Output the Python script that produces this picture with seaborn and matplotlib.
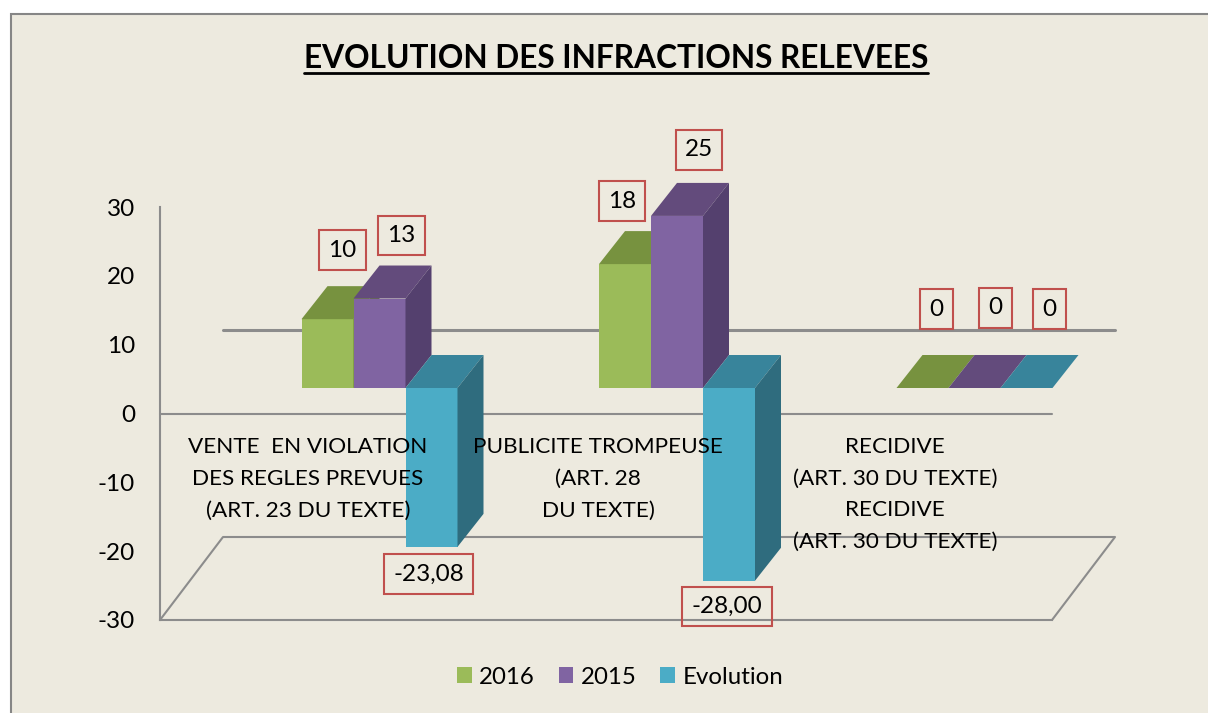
import numpy as np
import pandas as pd
import seaborn as sns
import matplotlib
matplotlib.use("Agg")
import matplotlib.pyplot as plt
from matplotlib.patches import Polygon, Rectangle
from matplotlib.lines import Line2D

categories = ["VENTE  EN VIOLATION\nDES REGLES PREVUES\n(ART. 23 DU TEXTE)",
              "PUBLICITE TROMPEUSE\n(ART. 28\nDU TEXTE)",
              "RECIDIVE\n(ART. 30 DU TEXTE)\nRECIDIVE\n(ART. 30 DU TEXTE)"]
series = ["2016", "2015", "Evolution"]
values_2016 = [10, 18, 0]
values_2015 = [13, 25, 0]
values_evol = [-23.08, -28.00, 0]
labels_2016 = ["10", "18", "0"]
labels_2015 = ["13", "25", "0"]
labels_evol = ["-23,08", "-28,00", "0"]
yticks = [-30, -20, -10, 0, 10, 20, 30]

colors = ["#9BBB59", "#8064A2", "#4BACC6"]
top_colors = ["#77923F", "#634B7C", "#38849B"]
side_colors = ["#6A8238", "#54406E", "#2F6C7E"]
BG = "#EDEADF"
LINE = "#8C8C8C"
W, H = 1208, 713

# pixel frame of the chart
X0, X1 = 160, 1052
Y_TOP, Y_BOT = 207, 620
CAT_STEP = 297.5
CAT_START = 379.5
PX_Y = (Y_BOT - Y_TOP) / 60

def fx(x):
    return x / W

def fy(y):
    return 1 - y / H

df = pd.DataFrame({
    "cat": categories * 3,
    "serie": np.repeat(series, 3),
    "value": values_2016 + values_2015 + values_evol,
})

sns.set_style("white")
plt.rcParams["font.family"] = ["Lato", "DejaVu Sans"]
plt.rcParams["axes.unicode_minus"] = False
FS = 16.2
FS_NUM = 17.5

fig = plt.figure(figsize=(W / 100, H / 100), dpi=100, facecolor="white")
fig.add_artist(Rectangle((fx(11), fy(H + 20)), (W + 20) / W, (H + 6) / H, transform=fig.transFigure,
                         facecolor=BG, edgecolor="#868686", lw=1.5, zorder=-1))
ax = fig.add_axes([fx(X0), fy(Y_BOT), (X1 - X0) / W, (Y_BOT - Y_TOP) / H])
ax.patch.set_alpha(0)

sns.barplot(data=df, x="cat", y="value", hue="serie", order=categories, hue_order=series,
            palette=colors, saturation=1, width=156 / CAT_STEP, gap=0, ax=ax,
            linewidth=0, zorder=3)

ax.set_xlim((X0 - CAT_START) / CAT_STEP, (X1 - CAT_START) / CAT_STEP)
ax.set_ylim(-30, 30)
ax.set_yticks(yticks)
ax.set_xticks([])
ax.set_xlabel("")
ax.set_ylabel("")
ax.tick_params(axis="y", length=0, pad=18, labelsize=FS_NUM, labelcolor="black")
sns.despine(ax=ax, top=True, right=True)
for s in ["left", "bottom"]:
    ax.spines[s].set_color(LINE)
    ax.spines[s].set_linewidth(1.5)

# floor and back line
xa, xb = ax.get_xlim()
fdx = 63 / CAT_STEP
fdy = 83 / PX_Y
ax.plot([xa, xa + fdx, xb + fdx, xb], [-30, -30 + fdy, -30 + fdy, -30], color=LINE, lw=1.5, clip_on=False, zorder=1)
ax.plot([xa + fdx, xb + fdx], [fdy + 0.12, fdy + 0.12], color=LINE, lw=2.2, clip_on=False, zorder=1)
ax.plot([xa, xb], [0, 0], color=LINE, lw=1.5, clip_on=False, zorder=1)

# bars stand on a plane behind the front zero line
base = 25.5 / PX_Y
ddx = 26 / CAT_STEP
ddy = 33 / PX_Y
all_labels = [labels_2016, labels_2015, labels_evol]
offsets = [[(15, -69), (-3, -63), (14, -79)],
           [(22, -63), (22, -66), (21, -80)],
           [(-3, 27), (-2, 26), (23, -79)]]

# depth faces for each bar, worked out from the bars seaborn drew
for k, cont in enumerate(ax.containers):
    for i, bar in enumerate(cont):
        bar.set_y(base)
        bar.set_zorder(3 + k)
        bar.set_clip_on(False)
        x = bar.get_x()
        w = bar.get_width()
        b = bar.get_y()
        h = bar.get_height()
        top = max(b, b + h)
        low = min(b, b + h)
        ax.add_patch(Polygon([(x, top), (x + ddx, top + ddy), (x + w + ddx, top + ddy), (x + w, top)],
                             facecolor=top_colors[k], lw=0, clip_on=False, zorder=3 + k))
        if h != 0:
            ax.add_patch(Polygon([(x + w, top), (x + w + ddx, top + ddy), (x + w + ddx, low + ddy), (x + w, low)],
                                 facecolor=side_colors[k], lw=0, clip_on=False, zorder=3 + k))
        end = b + h
        off = offsets[k][i]
        ax.annotate(all_labels[k][i], (x + w / 2, end), xytext=(off[0] * 0.72, -off[1] * 0.72),
                    textcoords="offset points", ha="center", va="center", fontsize=FS_NUM, color="black",
                    annotation_clip=False, zorder=20,
                    bbox=dict(boxstyle="square,pad=0.38", facecolor="none", edgecolor="#C0504D", lw=1.5))

# category names sit left of the bars
name_x = [308, 598, 895]
for name, nx in zip(categories, name_x):
    fig.text(fx(nx), fy(437), name, ha="center", va="top", fontsize=FS, color="black",
             linespacing=1.73, zorder=20)

handles, labels = ax.get_legend_handles_labels()
ax.legend(handles, labels, loc="center", bbox_to_anchor=(fx(620), fy(677)), bbox_transform=fig.transFigure,
          ncol=3, frameon=False, fontsize=17.3, handlelength=0.62, handleheight=0.62,
          handletextpad=0.3, columnspacing=1.0, labelcolor="black")

title = fig.text(fx(616), fy(59), "EVOLUTION DES INFRACTIONS RELEVEES", ha="center", va="center",
                 fontsize=22.8, fontweight="bold", color="black")
fig.canvas.draw()
box = title.get_window_extent()
fig.add_artist(Line2D([box.x0 / W, box.x1 / W], [fy(73), fy(73)], color="black", lw=2))

fig.savefig("out.png", dpi=100, facecolor=fig.get_facecolor())
